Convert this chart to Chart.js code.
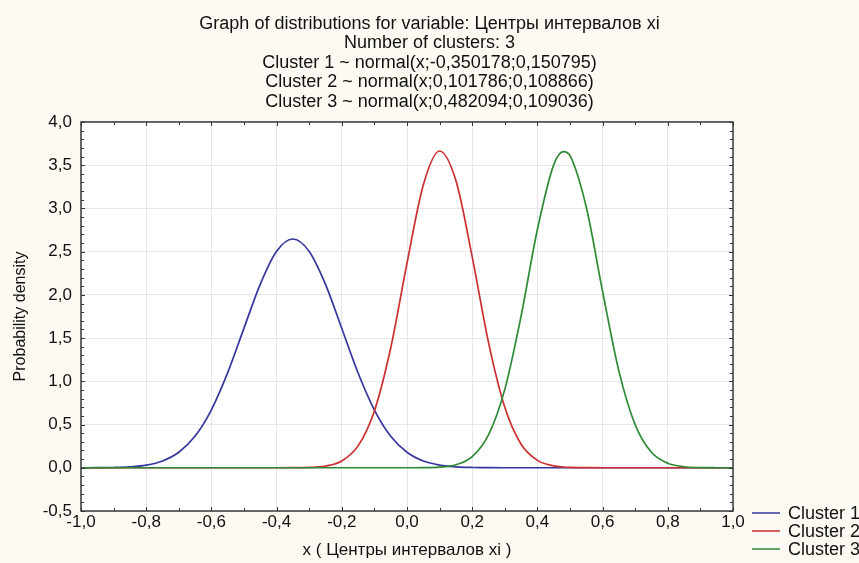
<!DOCTYPE html>
<html>
<head>
<meta charset="utf-8">
<script src="https://cdn.jsdelivr.net/npm/chart.js@4/dist/chart.umd.min.js"></script>
<style>
  html, body { margin: 0; padding: 0; background: #fcfaf2; }
  #wrap { width: 859px; height: 563px; }
</style>
</head>
<body>
<div id="wrap"><canvas id="myChart" width="859" height="563"></canvas></div>
<script>
// значения x (шаг 0.05, плюс точка у вершины 3-го кластера)
const xValues = [-1.0, -0.95, -0.9, -0.85, -0.8, -0.75, -0.7, -0.65, -0.6, -0.55,
  -0.5, -0.45, -0.4, -0.35, -0.3, -0.25, -0.2, -0.15, -0.1, -0.05,
  0.0, 0.05, 0.1, 0.15, 0.2, 0.25, 0.3, 0.35, 0.4, 0.45, 0.48,
  0.5, 0.55, 0.6, 0.65, 0.7, 0.75, 0.8, 0.85, 0.9, 0.95, 1.0]

// плотности
const cluster1 = [0.0002, 0.001, 0.0034, 0.011, 0.031, 0.079, 0.179, 0.367, 0.671, 1.100,
  1.615, 2.125, 2.505, 2.646, 2.503, 2.122, 1.611, 1.096, 0.668, 0.365,
  0.179, 0.078, 0.031, 0.011, 0.0034, 0.001, 0.0002, 0, 0, 0, 0,
  0, 0, 0, 0, 0, 0, 0, 0, 0, 0, 0]
const cluster2 = [0, 0, 0, 0, 0, 0, 0, 0, 0, 0,
  0, 0, 0.0001, 0.0007, 0.004, 0.020, 0.079, 0.253, 0.657, 1.386,
  2.367, 3.272, 3.664, 3.322, 2.440, 1.451, 0.699, 0.272, 0.086, 0.022, 0.0088,
  0.0046, 0.0008, 0.0001, 0, 0, 0, 0, 0, 0, 0, 0]
const cluster3 = [0, 0, 0, 0, 0, 0, 0, 0, 0, 0,
  0, 0, 0, 0, 0, 0, 0, 0, 0, 0,
  0.0002, 0.0014, 0.008, 0.035, 0.129, 0.380, 0.907, 1.756, 2.756, 3.504, 3.658,
  3.610, 3.014, 2.039, 1.118, 0.497, 0.179, 0.052, 0.012, 0.0024, 0.0004, 0]

const seriesNames = ['Cluster 1', 'Cluster 2', 'Cluster 3']
const seriesColors = ['#36369e', '#cc2f2f', '#2f8a35']

const titleLines = [
  'Graph of distributions for variable: Центры интервалов xi',
  'Number of clusters: 3',
  'Cluster 1 ~ normal(x;-0,350178;0,150795)',
  'Cluster 2 ~ normal(x;0,101786;0,108866)',
  'Cluster 3 ~ normal(x;0,482094;0,109036)'
]
const xTitle = 'x ( Центры интервалов xi )'
const yTitle = 'Probability density'

const xMin = -1.0, xMax = 1.0, xStep = 0.2
const yMin = -0.5, yMax = 4.0, yStep = 0.5

const FONT = "'Liberation Sans', Arial, sans-serif"
Chart.defaults.font.family = FONT
Chart.defaults.font.size = 17
Chart.defaults.color = '#111'

function commaNum(v) {
  return v.toFixed(1).replace('.', ',')
}

// фон: кремовый снаружи, белый внутри области графика
const bgPlugin = {
  id: 'bgPlugin',
  beforeDraw(chart) {
    const {ctx, chartArea: a} = chart
    ctx.save()
    ctx.fillStyle = '#fcfaf2'
    ctx.fillRect(0, 0, chart.width, chart.height)
    ctx.fillStyle = '#ffffff'
    ctx.fillRect(a.left, a.top, a.right - a.left, a.bottom - a.top)
    ctx.restore()
  }
}

// рамка и мелкие засечки внутрь, как в Statistica
const framePlugin = {
  id: 'framePlugin',
  afterDatasetsDraw(chart) {
    const {ctx, chartArea: a, scales} = chart
    ctx.save()
    ctx.strokeStyle = '#333'
    ctx.lineWidth = 1
    ctx.beginPath()
    for (let i = 0; i <= 20; i++) {
      const v = xMin + i * 0.1
      const px = Math.round(scales.x.getPixelForValue(v)) + 0.5
      const len = i % 2 == 0 ? 4 : 3
      ctx.moveTo(px, a.bottom); ctx.lineTo(px, a.bottom - len)
      ctx.moveTo(px, a.top); ctx.lineTo(px, a.top + len)
    }
    for (let i = 0; i <= 45; i++) {
      const v = yMin + i * 0.1
      const py = Math.round(scales.y.getPixelForValue(v)) + 0.5
      const len = i % 5 == 0 ? 4 : 3
      ctx.moveTo(a.left, py); ctx.lineTo(a.left + len, py)
      ctx.moveTo(a.right, py); ctx.lineTo(a.right - len, py)
    }
    ctx.stroke()
    ctx.strokeStyle = '#3a3a3a'
    ctx.lineWidth = 1.5
    ctx.strokeRect(a.left, a.top, a.right - a.left, a.bottom - a.top)
    ctx.restore()
  }
}

// легенда в правом нижнем углу (частично за краем, как в оригинале)
const legendPlugin = {
  id: 'legendPlugin',
  afterDraw(chart) {
    const {ctx} = chart
    ctx.save()
    ctx.font = '18px ' + FONT
    ctx.textBaseline = 'middle'
    ctx.fillStyle = '#111'
    chart.data.datasets.forEach((ds, i) => {
      const y = 513 + i * 18
      ctx.strokeStyle = ds.borderColor
      ctx.lineWidth = 1.5
      ctx.beginPath()
      ctx.moveTo(752, y); ctx.lineTo(780, y)
      ctx.stroke()
      ctx.fillText(ds.label, 788, y + 1)
    })
    ctx.restore()
  }
}

const datasets = [cluster1, cluster2, cluster3].map((vals, i) => ({
  label: seriesNames[i],
  data: xValues.map((x, j) => ({x: x, y: vals[j]})),
  borderColor: seriesColors[i],
  backgroundColor: seriesColors[i],
  borderWidth: 1.7,
  pointRadius: 0,
  fill: false,
  cubicInterpolationMode: 'monotone',
  order: 3 - i
}))

let ctx = document.getElementById('myChart').getContext('2d')
let chart = new Chart(ctx, {
  type: 'line',
  data: { datasets: datasets },
  options: {
    responsive: false,
    animation: false,
    layout: { padding: 0 },
    plugins: {
      legend: { display: false },
      tooltip: { enabled: false },
      title: {
        display: true,
        text: titleLines,
        color: '#111',
        font: { size: 18, weight: 'normal', lineHeight: 1.083 },
        padding: { top: 14.25, bottom: 10.25 }
      }
    },
    scales: {
      x: {
        type: 'linear',
        min: xMin, max: xMax,
        afterFit(scale) { scale.height = 52 },
        ticks: {
          stepSize: xStep,
          padding: 1,
          maxRotation: 0,
          callback: (v) => commaNum(v)
        },
        grid: { color: '#e6e6ec', drawTicks: false },
        border: { display: false },
        title: { display: true, text: xTitle, padding: { top: 0, bottom: 2 } }
      },
      y: {
        min: yMin, max: yMax,
        afterFit(scale) { scale.width = 81 },
        ticks: {
          stepSize: yStep,
          padding: 9,
          callback: (v) => commaNum(v)
        },
        grid: { color: '#e6e6ec', drawTicks: false },
        border: { display: false },
        title: { display: true, text: yTitle, font: { size: 16 }, padding: { top: 10.5, bottom: 0 } }
      },
      // пустая ось справа -- только чтобы оставить место под легенду
      yRight: {
        type: 'linear',
        position: 'right',
        afterFit(scale) { scale.width = 126 },
        ticks: { display: false },
        grid: { display: false },
        border: { display: false }
      }
    }
  },
  plugins: [bgPlugin, framePlugin, legendPlugin]
})
</script>
</body>
</html>
